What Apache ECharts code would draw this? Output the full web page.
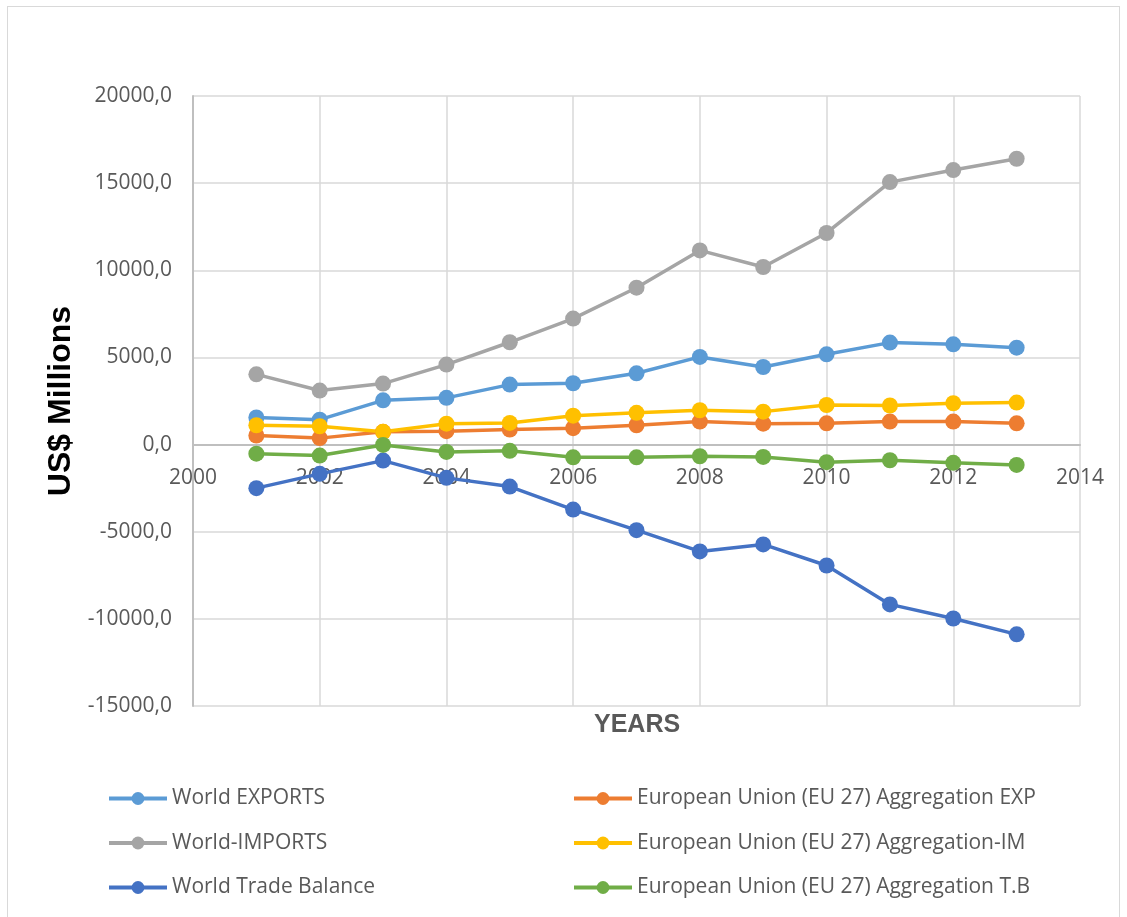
<!DOCTYPE html>
<html lang="en">
<head>
  <meta charset="UTF-8">
  <title>US$ Millions by year</title>
  <style>
    html, body { margin: 0; padding: 0; background: #fff; }
    #frame {
      position: absolute; left: 7px; top: 6px; width: 1113px; height: 920px;
      border: 1px solid #d9d9d9; box-sizing: border-box;
    }
    #echart { position: absolute; left: 0; top: 0; width: 1127px; height: 917px; }
  </style>
</head>
<body>
  <div id="frame"></div>
  <div id="echart"></div>
  <script src="https://cdn.jsdelivr.net/npm/echarts@6/dist/echarts.min.js"></script>
  <script>
    // years on the x axis
    var years = [2001, 2002, 2003, 2004, 2005, 2006, 2007, 2008, 2009, 2010, 2011, 2012, 2013];

    // values (US$ millions)
    var worldExports = [1560, 1430, 2540, 2680, 3440, 3520, 4090, 5030, 4450, 5180, 5850, 5750, 5560];
    var euExp        = [520, 370, 730, 770, 860, 940, 1110, 1320, 1200, 1220, 1320, 1320, 1220];
    var worldImports = [4030, 3100, 3500, 4590, 5870, 7230, 9000, 11140, 10190, 12140, 15060, 15750, 16400];
    var euIm         = [1110, 1050, 730, 1200, 1240, 1660, 1820, 1970, 1890, 2270, 2240, 2370, 2410];
    var worldTB      = [-2500, -1680, -920, -1910, -2410, -3730, -4910, -6130, -5730, -6940, -9170, -9980, -10890];
    var euTB         = [-520, -630, -20, -420, -360, -730, -730, -670, -710, -1010, -900, -1050, -1170];

    var labelColor = '#595959';
    var font = 'Open Sans';

    function pairs(vals) {
      return years.map(function (y, i) { return [y, vals[i]]; });
    }

    function line(name, color, vals) {
      return {
        name: name,
        type: 'line',
        data: pairs(vals),
        symbol: 'circle',
        symbolSize: 16,
        itemStyle: { color: color },
        lineStyle: { color: color, width: 3.5 }
      };
    }

    var legendText = { color: labelColor, fontSize: 21, fontFamily: font };

    var option = {
      animation: false,
      grid: [
        { left: 193, right: 47, top: 96, bottom: 211 },
        // same width, bottom edge sits on the zero line: carries the year labels
        { left: 193, right: 47, top: 96, bottom: 472 }
      ],
      xAxis: [
        {
          type: 'value', min: 2000, max: 2014, interval: 2,
          axisLine: { show: false },
          axisTick: { show: false },
          axisLabel: { show: false },
          splitLine: { lineStyle: { color: '#d9d9d9', width: 1.5 } }
        },
        {
          type: 'value', gridIndex: 1, min: 2000, max: 2014, interval: 2,
          axisLine: { lineStyle: { color: '#bfbfbf', width: 2 } },
          axisTick: { show: false },
          splitLine: { show: false },
          axisLabel: {
            color: labelColor, fontSize: 21, fontFamily: font, margin: 23,
            formatter: function (v) { return String(v); }
          }
        }
      ],
      yAxis: [
        {
          type: 'value', min: -15000, max: 20000, interval: 5000,
          name: 'US$ Millions',
          nameLocation: 'middle',
          nameRotate: 90,
          nameGap: 116,
          nameTextStyle: { color: '#000', fontSize: 32, fontWeight: 'bold', fontFamily: 'Liberation Sans' },
          axisLine: { show: true, lineStyle: { color: '#bfbfbf', width: 2 } },
          axisTick: { show: false },
          axisLabel: {
            color: labelColor, fontSize: 21, fontFamily: font, margin: 21,
            formatter: function (v) { return v.toFixed(1).replace('.', ','); }
          },
          splitLine: { lineStyle: { color: '#d9d9d9', width: 1.5 } }
        },
        {
          type: 'value', gridIndex: 1, min: 0, max: 1, show: false
        }
      ],
      legend: [
        {
          orient: 'vertical', left: 107, top: 788, padding: 0,
          itemWidth: 58, itemHeight: 16, itemGap: 23.5,
          lineStyle: { width: 4 },
          textStyle: legendText,
          data: ['World EXPORTS', 'World-IMPORTS', 'World Trade Balance']
        },
        {
          orient: 'vertical', left: 572, top: 788, padding: 0,
          itemWidth: 58, itemHeight: 16, itemGap: 23.5,
          lineStyle: { width: 4 },
          textStyle: legendText,
          data: ['European Union (EU 27) Aggregation EXP', 'European Union (EU 27) Aggregation-IM',
                 'European Union (EU 27) Aggregation T.B']
        }
      ],
      graphic: [{
        type: 'text',
        left: 594,
        top: 713,
        style: {
          text: 'YEARS', fill: labelColor, fontSize: 25, fontWeight: 'bold',
          fontFamily: 'Liberation Sans'
        }
      }],
      series: [
        line('World EXPORTS', '#5B9BD5', worldExports),
        line('European Union (EU 27) Aggregation EXP', '#ED7D31', euExp),
        line('World-IMPORTS', '#A5A5A5', worldImports),
        line('European Union (EU 27) Aggregation-IM', '#FFC000', euIm),
        line('World Trade Balance', '#4472C4', worldTB),
        line('European Union (EU 27) Aggregation T.B', '#70AD47', euTB)
      ]
    };

    var myChart = echarts.init(document.getElementById('echart'));
    myChart.setOption(option);
  </script>
</body>
</html>
